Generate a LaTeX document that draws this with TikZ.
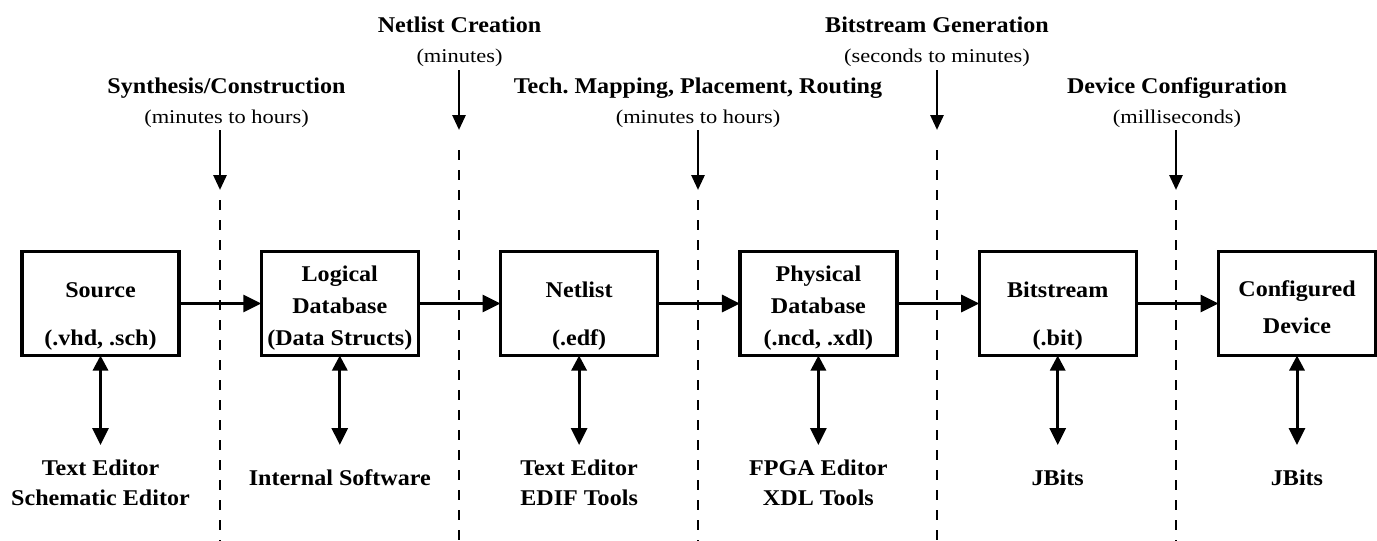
\documentclass[tikz,border=0pt]{standalone}
\usepackage{fontspec}
\setmainfont{Liberation Serif}
\newfontfamily\bfam[FakeStretch=1.07]{Liberation Serif}
\newfontfamily\rfam[FakeStretch=1.15]{Liberation Serif}
\usetikzlibrary{arrows.meta}
\begin{document}
\begin{tikzpicture}[x=1pt,y=-1pt,
 box/.style={draw, line width=3.3pt, minimum width=157pt, minimum height=104pt, inner sep=0pt, outer sep=0pt},
 bt/.style={anchor=base, inner sep=0pt, font=\bfam\bfseries\fontsize{22.5}{30}\selectfont},
 st/.style={anchor=base, inner sep=0pt, font=\rfam\fontsize{19.5}{26}\selectfont},
 flow/.style={line width=3pt, -{Triangle[length=18pt,width=17pt]}},
 both/.style={line width=3pt, {Triangle[length=15pt,width=15pt]}-{Triangle[length=17pt,width=16pt]}},
 down/.style={line width=2.8pt, -{Triangle[length=15pt,width=13pt]}},
 sep/.style={line width=2.8pt, dash pattern=on 10pt off 10pt}]
\useasboundingbox (0,0) rectangle (1377,541);

% boxes
\node[box] (b1) at (100.5,303.5) {};
\node[box] (b2) at (339.8,303.5) {};
\node[box] (b3) at (579.1,303.5) {};
\node[box] (b4) at (818.4,303.5) {};
\node[box] (b5) at (1057.7,303.5) {};
\node[box] (b6) at (1297,303.5) {};

% box texts
\node[bt] (t1a) at (100.5,297) {Source};
\node[bt] (t1b) at (100.5,345) {(.vhd, .sch)};
\node[bt] (t2a) at (339.8,281) {Logical};
\node[bt] (t2b) at (339.8,313) {Database};
\node[bt] (t2c) at (339.8,345) {(Data Structs)};
\node[bt] (t3a) at (579.1,297) {Netlist};
\node[bt] (t3b) at (579.1,345) {(.edf)};
\node[bt] (t4a) at (818.4,281) {Physical};
\node[bt] (t4b) at (818.4,313) {Database};
\node[bt] (t4c) at (818.4,345) {(.ncd, .xdl)};
\node[bt] (t5a) at (1057.7,297) {Bitstream};
\node[bt] (t5b) at (1057.7,345) {(.bit)};
\node[bt] (t6a) at (1297,296) {Configured};
\node[bt] (t6b) at (1297,333) {Device};

% flow arrows
\draw[flow] (b1) -- (b2);
\draw[flow] (b2) -- (b3);
\draw[flow] (b3) -- (b4);
\draw[flow] (b4) -- (b5);
\draw[flow] (b5) -- (b6);

% tools
\coordinate (e1) at (100.5,445);
\coordinate (e2) at (339.8,445);
\coordinate (e3) at (579.1,445);
\coordinate (e4) at (818.4,445);
\coordinate (e5) at (1057.7,445);
\coordinate (e6) at (1297,445);
\draw[both] (b1.south) -- (e1);
\draw[both] (b2.south) -- (e2);
\draw[both] (b3.south) -- (e3);
\draw[both] (b4.south) -- (e4);
\draw[both] (b5.south) -- (e5);
\draw[both] (b6.south) -- (e6);

\node[bt] (u1a) at (100.5,475) {Text Editor};
\node[bt] (u1b) at (100.5,505) {Schematic Editor};
\node[bt] (u2) at (339.8,485) {Internal Software};
\node[bt] (u3a) at (579.1,475) {Text Editor};
\node[bt] (u3b) at (579.1,505) {EDIF Tools};
\node[bt] (u4a) at (818.4,475) {FPGA Editor};
\node[bt] (u4b) at (818.4,505) {XDL Tools};
\node[bt] (u5) at (1057.7,485) {JBits};
\node[bt] (u6) at (1297,485) {JBits};

% phase labels
\node[bt] (p1a) at (226.5,93) {Synthesis/Construction};
\node[st] (p1b) at (226.5,123) {(minutes to hours)};
\node[bt] (p2a) at (459.5,32) {Netlist Creation};
\node[st] (p2b) at (459.5,62) {(minutes)};
\node[bt] (p3a) at (698,93) {Tech.\ Mapping, Placement, Routing};
\node[st] (p3b) at (698,123) {(minutes to hours)};
\node[bt] (p4a) at (937,32) {Bitstream Generation};
\node[st] (p4b) at (937,62) {(seconds to minutes)};
\node[bt] (p5a) at (1177,93) {Device Configuration};
\node[st] (p5b) at (1177,123) {(milliseconds)};

% phase arrows and separators
\coordinate (a1s) at (220,130);  \coordinate (a1e) at (220,190);
\coordinate (a2s) at (459,70);   \coordinate (a2e) at (459,130);
\coordinate (a3s) at (698,130);  \coordinate (a3e) at (698,190);
\coordinate (a4s) at (937,70);   \coordinate (a4e) at (937,130);
\coordinate (a5s) at (1176,130); \coordinate (a5e) at (1176,190);
\draw[down] (a1s) -- (a1e);
\draw[down] (a2s) -- (a2e);
\draw[down] (a3s) -- (a3e);
\draw[down] (a4s) -- (a4e);
\draw[down] (a5s) -- (a5e);

\coordinate (d1) at (220,541);
\coordinate (d2) at (459,541);
\coordinate (d3) at (698,541);
\coordinate (d4) at (937,541);
\coordinate (d5) at (1176,541);
\draw[sep] (220,200) -- (d1);
\draw[sep] (459,150) -- (d2);
\draw[sep] (698,200) -- (d3);
\draw[sep] (937,150) -- (d4);
\draw[sep] (1176,200) -- (d5);
\end{tikzpicture}
\end{document}
